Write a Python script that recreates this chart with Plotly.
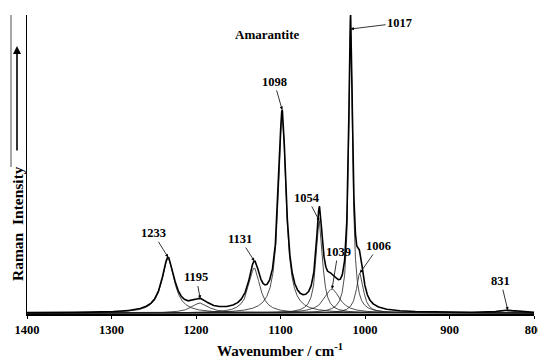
import numpy as np
import plotly.graph_objects as go

# Band parameters (fitted Lorentzian components)
band_centers = [1233, 1195, 1131, 1098, 1054, 1039, 1017, 1006, 831]
band_heights = [54, 10, 45, 198, 92, 24, 284, 40, 2.5]
band_hwhm = [9.0, 12.0, 8.0, 5.5, 4.5, 11.0, 2.8, 5.0, 12.0]
band_labels = ["1233", "1195", "1131", "1098", "1054", "1039", "1017", "1006", "831"]
label_dx = [-15, -4, -14, -8, -12, 6, 49, 19, -7]
label_dy = [-24, -21, -22, -28, -23, -37, -6, -27, -29]
label_on_envelope = [True, True, True, True, False, False, False, False, True]

x_ticks = [1400, 1300, 1200, 1100, 1000, 900, 800]

wn = np.arange(800, 1400.001, 0.2)


def band(c, h, w, x):
    return h / (1.0 + ((x - c) / w) ** 2)


components = [band(c, h, w, wn) for c, h, w in zip(band_centers, band_heights, band_hwhm)]
envelope = np.sum(components, axis=0)

fig = go.Figure()
for comp in components:
    fig.add_trace(go.Scatter(x=wn, y=comp, mode="lines",
                             line=dict(color="#222222", width=0.8),
                             showlegend=False, hoverinfo="skip"))
fig.add_trace(go.Scatter(x=wn, y=envelope, mode="lines",
                         line=dict(color="black", width=1.6),
                         showlegend=False, hoverinfo="skip"))

serif = "Liberation Serif, Times New Roman, serif"
annotations = []
for c, h, w, lab, dx, dy, on_env in zip(band_centers, band_heights, band_hwhm,
                                         band_labels, label_dx, label_dy, label_on_envelope):
    if on_env:
        yv = float(np.sum([band(cc, hh, ww, c) for cc, hh, ww in zip(band_centers, band_heights, band_hwhm)]))
    else:
        yv = h
    annotations.append(dict(x=c, y=yv, xref="x", yref="y", text="<b>%s</b>" % lab,
                            showarrow=True, ax=dx, ay=dy, arrowhead=2, arrowsize=0.8,
                            arrowwidth=0.8, arrowcolor="black", standoff=0,
                            font=dict(family=serif, size=12.5, color="black")))

annotations.append(dict(x=(267 - 27) / 507, y=(314 - 35) / 299, xref="paper", yref="paper",
                        xanchor="center", yanchor="middle",
                        text="<b>Amarantite</b>", showarrow=False,
                        font=dict(family=serif, size=13, color="black")))
annotations.append(dict(x=(280 - 27) / 507, y=(314 - 350) / 299, xref="paper", yref="paper",
                        xanchor="center", yanchor="middle",
                        text="<b>Wavenumber / cm<sup>-1</sup></b>", showarrow=False,
                        font=dict(family=serif, size=15, color="black")))
annotations.append(dict(x=(17 - 27) / 507, y=(314 - 224) / 299, xref="paper", yref="paper",
                        xanchor="center", yanchor="middle",
                        text="<b>Raman  Intensity</b>", showarrow=False, textangle=-90,
                        font=dict(family=serif, size=15.5, color="black")))
annotations.append(dict(x=(17 - 27) / 507, y=(314 - 46) / 299, xref="paper", yref="paper",
                        text="", showarrow=True, ax=0, ay=106, arrowhead=2, arrowsize=1,
                        arrowwidth=1.6, arrowcolor="black", standoff=0))

fig.update_layout(
    width=538, height=358,
    margin=dict(l=27, r=4, t=15, b=44, autoexpand=False),
    plot_bgcolor="white", paper_bgcolor="white",
    annotations=annotations,
    shapes=[dict(type="line", xref="paper", yref="paper",
                 x0=(11 - 27) / 507, x1=(11 - 27) / 507,
                 y0=1.0, y1=(314 - 167) / 299,
                 line=dict(color="#888888", width=1.5))],
    xaxis=dict(range=[1400, 800], tickvals=x_ticks,
               ticktext=["<b>%d</b>" % t for t in x_ticks],
               showgrid=False, zeroline=False, showline=True, linecolor="black",
               linewidth=1.5, ticks="outside", ticklen=3, tickcolor="black",
               ticklabeloverflow="allow", automargin=False,
               tickfont=dict(family=serif, size=12.5, color="black")),
    yaxis=dict(range=[-1, 298], showgrid=False, zeroline=False, showline=True,
               linecolor="black", linewidth=1.2, ticks="", showticklabels=False,
               automargin=False),
)

fig.write_html("out.html", config={"displayModeBar": False},
               post_script="document.body.style.margin='0';document.body.style.overflow='hidden';")
